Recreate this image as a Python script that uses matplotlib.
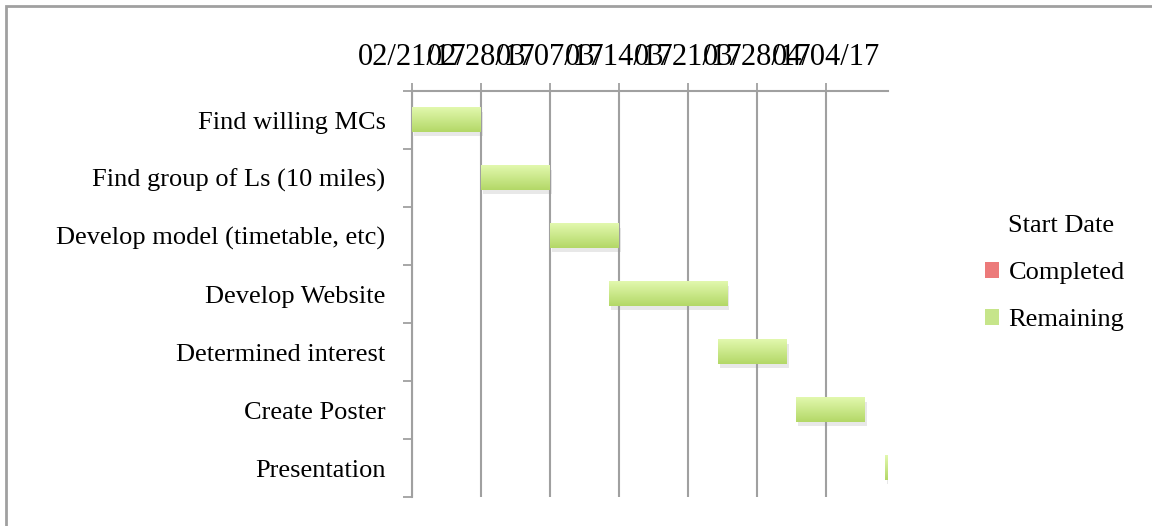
import numpy as np
import matplotlib
matplotlib.use("Agg")
import matplotlib.pyplot as plt
import matplotlib.dates as mdates
import matplotlib.patheffects as pe
from matplotlib.patches import Patch, Rectangle
from matplotlib.colors import LinearSegmentedColormap
from matplotlib.ticker import FixedLocator
import datetime as dt

# ---------------- data ----------------
tasks = [
    "Find willing MCs",
    "Find group of Ls (10 miles)",
    "Develop model (timetable, etc)",
    "Develop Website",
    "Determined interest",
    "Create Poster",
    "Presentation",
]
start_dates = ["2017-02-21", "2017-02-28", "2017-03-07", "2017-03-13",
               "2017-03-24", "2017-04-01", "2017-04-10"]
completed_days = [0, 0, 0, 0, 0, 0, 0]
remaining_days = [7, 7, 7, 12, 7, 7, 7]
tick_dates = ["2017-02-21", "2017-02-28", "2017-03-07", "2017-03-14",
              "2017-03-21", "2017-03-28", "2017-04-04"]
axis_start = "2017-02-21"
axis_end = "2017-04-10"

# ---------------- style ----------------
FONT = ["Liberation Serif", "DejaVu Serif"]
FS = 19
FS_DATE = 22
GRID = "#a0a0a0"
GREEN_TOP = "#e2f8ae"
GREEN_BOT = "#b3d867"

plt.rcParams["font.family"] = FONT


def to_num(s):
    return mdates.date2num(dt.datetime.strptime(s, "%Y-%m-%d"))


starts = np.array([to_num(s) for s in start_dates])
ypos = np.arange(len(tasks))
xmin, xmax = to_num(axis_start), to_num(axis_end) + 0.3

fig = plt.figure(figsize=(11.52, 5.26), dpi=100)
ax = fig.add_axes([412 / 1152, 1 - 497 / 526, 476 / 1152, 406 / 526])

# chart-area frame (only top/left visible)
fig.patches.append(Rectangle((6 / 1152, -0.1), 1.2, (526 - 5.5) / 526 + 0.1,
                             transform=fig.transFigure, fill=False,
                             ec=GRID, lw=2.0))

# stacked gantt bars: invisible start, completed, remaining
ax.barh(ypos, starts, height=0.42, color="none")
ax.barh(ypos, completed_days, left=starts, height=0.42, color="#e05353")
rem = ax.barh(ypos, remaining_days, left=starts, height=0.42,
              color=GREEN_BOT, zorder=3,
              path_effects=[pe.SimplePatchShadow(offset=(1.5, -3), shadow_rgbFace="0.6",
                                                 alpha=0.22), pe.Normal()])

green_cmap = LinearSegmentedColormap.from_list("g", [GREEN_BOT, GREEN_TOP])
grad = np.linspace(0, 1, 64).reshape(-1, 1)
for p in rem.patches:
    x0, y0 = p.get_x(), p.get_y()
    w, h = p.get_width(), p.get_height()
    x1 = min(x0 + w, xmax)
    if x1 <= x0:
        continue
    ax.imshow(grad, extent=[x0, x1, y0 + h, y0], origin="lower",
              cmap=green_cmap, aspect="auto", zorder=4)

ax.set_xlim(xmin, xmax)
ax.set_ylim(len(tasks) - 0.5, -0.5)

# x axis on top
ax.xaxis.tick_top()
ax.set_xticks([to_num(d) for d in tick_dates])
ax.xaxis.set_major_formatter(mdates.DateFormatter("%m/%d/%y"))
ax.tick_params(axis="x", which="major", direction="out", length=6, width=1.3,
               color=GRID, pad=8, labelsize=FS_DATE)
ax.grid(axis="x", color=GRID, lw=1.5, zorder=0)
ax.set_axisbelow(True)

# y axis: labels at centres, ticks at boundaries
ax.set_yticks(ypos)
ax.set_yticklabels(tasks)
ax.tick_params(axis="y", which="major", length=0, pad=19, labelsize=FS)
ax.yaxis.set_minor_locator(FixedLocator(np.arange(-0.5, len(tasks), 1.0)))
ax.tick_params(axis="y", which="minor", direction="out", length=6.5,
               width=1.3, color=GRID)

for side in ["right", "bottom"]:
    ax.spines[side].set_visible(False)
for side in ["top", "left"]:
    ax.spines[side].set_color(GRID)
    ax.spines[side].set_linewidth(1.5)

# legend
handles = [
    Patch(facecolor="none", edgecolor="none"),
    Patch(facecolor="#ec7a7a", edgecolor="none"),
    Patch(facecolor="#c6e58a", edgecolor="none"),
]
fig.legend(handles, ["Start Date", "Completed", "Remaining"],
           loc="center left", bbox_to_anchor=(961 / 1152, 1 - 273 / 526),
           frameon=False, fontsize=FS, handlelength=0.55, handleheight=0.55,
           handletextpad=0.35, labelspacing=0.95)

fig.savefig("out.png", dpi=100)
